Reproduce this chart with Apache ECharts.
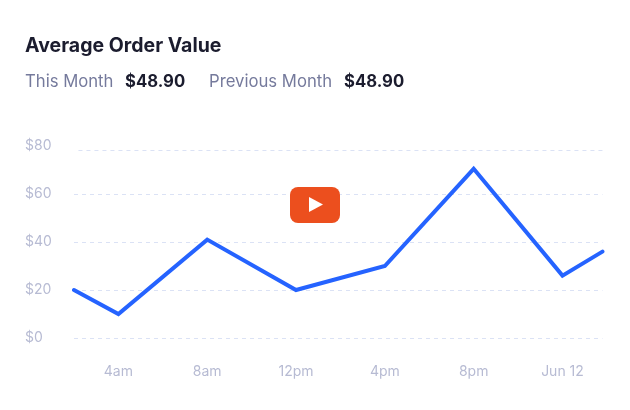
<!DOCTYPE html>
<html>
<head>
<meta charset="utf-8">
<style>
  html, body { margin: 0; padding: 0; background: #fff; }
  #chart { width: 630px; height: 410px; }
</style>
<script src="https://cdn.jsdelivr.net/npm/echarts@6/dist/echarts.min.js"></script>
</head>
<body>
<div id="chart"></div>
<script>
// hour of day (24 = Jun 12 midnight)
var hours = [2, 4, 8, 12, 16, 20, 24, 25.8];
var orderValue = [20, 10, 41, 20, 30, 70.5, 26, 36];
var tickHours = [4, 8, 12, 16, 20, 24];
var tickLabels = ["4am", "8am", "12pm", "4pm", "8pm", "Jun 12"];
var guideValues = [0, 20, 40, 60];
var topGuide = 78.2;

var inkColor = "#1b1c2e";
var mutedColor = "#757a9c";
var axisColor = "#b7bbd3";
var guideColor = "#dbe2f5";

var chart = echarts.init(document.getElementById("chart"));

var guides = guideValues.map(function (v) {
  return [{ coord: [2, v] }, { coord: [25.8, v] }];
});
guides.push([{ coord: [2.2, topGuide] }, { coord: [25.96, topGuide] }]);

function headerText(text, x, y, size, weight, color) {
  return {
    type: "text",
    left: x,
    top: y,
    style: {
      text: text,
      fontFamily: "Inter",
      fontSize: size,
      fontWeight: weight,
      fill: color
    }
  };
}

chart.setOption({
  animation: false,
  grid: { left: 74, right: 24, top: 146, bottom: 72 },
  xAxis: {
    type: "value",
    min: 2,
    max: 25.96,
    axisLine: { show: false },
    axisTick: { show: false },
    splitLine: { show: false },
    axisLabel: {
      customValues: tickHours,
      margin: 27,
      color: axisColor,
      fontFamily: "Inter",
      fontSize: 14,
      formatter: function (v) {
        return tickLabels[tickHours.indexOf(v)];
      }
    }
  },
  yAxis: {
    type: "value",
    min: 0,
    max: 80,
    interval: 20,
    axisLine: { show: false },
    axisTick: { show: false },
    splitLine: { show: false },
    axisLabel: {
      align: "left",
      margin: 49,
      padding: [2, 0, 0, 0],
      color: axisColor,
      fontFamily: "Inter",
      fontSize: 14,
      formatter: "${value}"
    }
  },
  series: [
    {
      name: "Average Order Value",
      type: "line",
      data: hours.map(function (h, i) { return [h, orderValue[i]]; }),
      showSymbol: false,
      z: 5,
      lineStyle: { color: "#2563ff", width: 4, cap: "round", join: "miter" },
      markLine: {
        silent: true,
        symbol: "none",
        label: { show: false },
        lineStyle: { color: guideColor, width: 1, type: [4, 4] },
        data: guides
      }
    }
  ],
  graphic: [
    headerText("Average Order Value", 25, 36, 19.5, 700, inkColor),
    headerText("This Month", 25, 73, 16.7, 400, mutedColor),
    headerText("$48.90", 125, 73, 16.7, 700, inkColor),
    headerText("Previous Month", 209, 73, 16.7, 400, mutedColor),
    headerText("$48.90", 344, 73, 16.7, 700, inkColor),
    // play button overlay
    {
      type: "rect",
      z: 10,
      shape: { x: 290, y: 187, width: 50, height: 36, r: 8 },
      style: { fill: "#ec4f1e" }
    },
    {
      type: "polygon",
      z: 11,
      shape: { points: [[309, 197], [309, 212], [323, 204.5]] },
      style: { fill: "#fff" }
    }
  ]
});

window.addEventListener("resize", function () {
  chart.resize();
});
</script>
</body>
</html>
